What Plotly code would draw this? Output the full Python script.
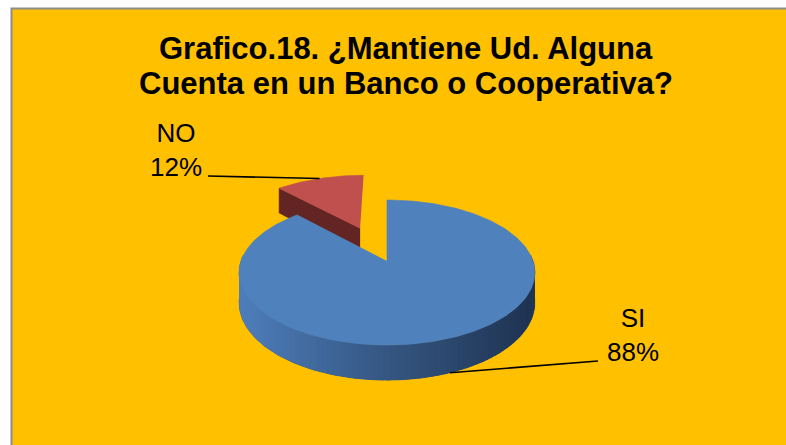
import numpy as np
import plotly.graph_objects as go

# Survey answers
labels = ["SI", "NO"]
values = [88, 12]
title_lines = ["Grafico.18. ¿Mantiene Ud. Alguna", "Cuenta en un Banco o Cooperativa?"]

top_colors = ["#4F81BD", "#C0504D"]
cut_colors = ["#2B4A73", "#632523"]
side_stops = [(0.0, (78, 126, 188)), (0.45, (55, 90, 135)), (1.0, (30, 50, 80))]

W, H = 786, 445

# projected disc geometry (pixel space)
CX, CY = 387.0, 261.0
RX, RY = 146.0, 70.7
PERSP = 0.159
DEPTH = 29.5
EXPLODE = [0.0, 0.54]


def proj(X, Z, drop=0.0):
    s = 1.0 / (1.0 + PERSP * Z)
    return CX + RX * X * s, CY - RY * Z * s + drop * s


def lerp_color(t):
    t = min(max(t, 0.0), 1.0)
    for (t0, c0), (t1, c1) in zip(side_stops[:-1], side_stops[1:]):
        if t <= t1:
            u = (t - t0) / (t1 - t0)
            c = [round(a + (b - a) * u) for a, b in zip(c0, c1)]
            return "rgb(%d,%d,%d)" % tuple(c)
    return "rgb(%d,%d,%d)" % side_stops[-1][1]


total = float(sum(values))
bounds = np.concatenate([[0.0], np.cumsum(values) / total * 360.0])
slices = []
for i, v in enumerate(values):
    a0, a1 = bounds[i], bounds[i + 1]
    mid = np.radians((a0 + a1) / 2)
    ex, ez = EXPLODE[i] * np.sin(mid), EXPLODE[i] * np.cos(mid)
    slices.append(dict(a0=a0, a1=a1, mid=mid, ex=ex, ez=ez))


def rim(sl, ang_deg, drop=0.0):
    a = np.radians(ang_deg)
    return proj(np.sin(a) + sl["ex"], np.cos(a) + sl["ez"], drop)


def poly(xs, ys, color, edge=True):
    return go.Scatter(x=list(xs), y=list(ys), fill="toself", fillcolor=color,
                      mode="lines", line=dict(color=color, width=0.6 if edge else 0),
                      hoverinfo="skip", showlegend=False)


fig = go.Figure()

# NO slice (behind): cut face then top
no = slices[1]
ax, ay = proj(no["ex"], no["ez"])
axb, ayb = proj(no["ex"], no["ez"], DEPTH)
rx0, ry0 = rim(no, no["a0"])
rx0b, ry0b = rim(no, no["a0"], DEPTH)
fig.add_trace(poly([ax, rx0, rx0b, axb], [ay, ry0, ry0b, ayb], cut_colors[1]))
angs = np.linspace(no["a0"], no["a1"], 40)
pts = [rim(no, a) for a in angs]
fig.add_trace(poly([ax] + [p[0] for p in pts], [ay] + [p[1] for p in pts], top_colors[1]))

# SI slice: outer wall (base band + overlapping shaded strips), then top face
si = slices[0]
lo, hi = max(si["a0"], 85.0), min(si["a1"], 275.0)
wall = np.linspace(lo, hi, 200)
top_band = [rim(si, a) for a in wall]
bot_band = [rim(si, a, DEPTH) for a in wall[::-1]]
band = top_band + bot_band
fig.add_trace(poly([p[0] for p in band], [p[1] for p in band], lerp_color(0.5)))

edges = np.linspace(lo, hi, 90)
step = edges[1] - edges[0]
xl, _ = proj(-1.02, 0.0)
xr, _ = proj(1.02, 0.0)
for a in edges[:-1]:
    b = min(a + step * 1.6, hi)
    seg = np.linspace(a, b, 4)
    tp = [rim(si, s) for s in seg]
    bp = [rim(si, s, DEPTH) for s in seg[::-1]]
    xm = rim(si, a + step / 2)[0]
    col = lerp_color((xm - xl) / (xr - xl))
    ring = tp + bp
    fig.add_trace(poly([p[0] for p in ring], [p[1] for p in ring], col, edge=False))

angs = np.linspace(si["a0"], si["a1"], 300)
pts = [rim(si, a) for a in angs]
cx0, cy0 = proj(si["ex"], si["ez"])
fig.add_trace(poly([cx0] + [p[0] for p in pts], [cy0] + [p[1] for p in pts], top_colors[0]))

# data labels with leader lines
pct = [round(v / total * 100) for v in values]
label_pos = {"NO": (176, 150), "SI": (633, 335)}
line_start = {"NO": (208, 176), "SI": (598, 361)}
for i, (lab, sl) in enumerate(zip(labels, slices)):
    a_mid = np.degrees(sl["mid"])
    if i == 0:
        px, py = rim(sl, a_mid, DEPTH)
    else:
        px, py = rim(sl, a_mid)
    sx, sy = line_start[lab]
    fig.add_trace(go.Scatter(x=[sx, px], y=[sy, py], mode="lines",
                             line=dict(color="black", width=1.6),
                             hoverinfo="skip", showlegend=False))
    lx, ly = label_pos[lab]
    fig.add_annotation(x=lx, y=ly, xref="x", yref="y", showarrow=False,
                       text=f"{lab}<br>{pct[i]}%", align="center",
                       font=dict(family="Liberation Sans, Arial", size=26, color="black"))

# two-line bold title
for j, line in enumerate(title_lines):
    fig.add_annotation(x=406, y=48 + 35 * j, xref="x", yref="y", showarrow=False,
                       text="<b>" + line + "</b>", align="center",
                       font=dict(family="Liberation Sans, Arial", size=31, color="black"))

fig.add_shape(type="rect", xref="x", yref="y", x0=11.5, y0=8.5, x1=W + 20, y1=H + 20,
              fillcolor="#FFC000", line=dict(color="#8C8C8C", width=2), layer="below")

fig.update_layout(
    width=W, height=H, margin=dict(l=0, r=0, t=0, b=0),
    paper_bgcolor="white", plot_bgcolor="rgba(0,0,0,0)",
    xaxis=dict(range=[0, W], visible=False, fixedrange=True),
    yaxis=dict(range=[H, 0], visible=False, fixedrange=True),
    showlegend=False,
)

fig.write_html("out.html")
